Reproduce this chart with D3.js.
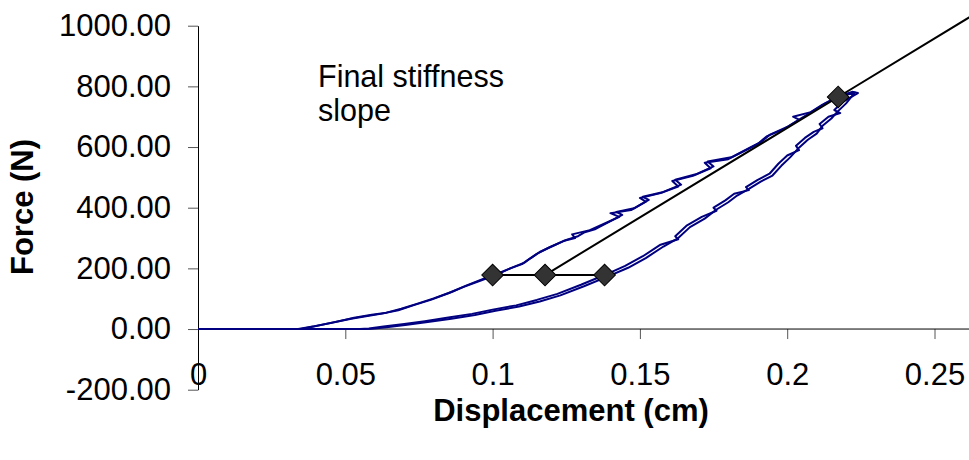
<!DOCTYPE html>
<html lang="en">
<head>
    <meta charset="UTF-8">
    <title>Force - displacement</title>
    <style>
        body { margin: 0; background: #fff; }
        svg text { font-family: "Liberation Sans", Arial, sans-serif; fill: #000; }
        .tick line { stroke: #555; }
    </style>
</head>
<body>
<svg id="chart"></svg>
<script src="https://d3js.org/d3.v7.min.js"></script>
<script>
    // hysteresis loops, [displacement cm, force N]
    var loadA = [[0, 0], [0.034, 0], [0.039, 8], [0.045, 20], [0.052, 34], [0.058, 44], [0.062, 50], [0.068, 62],
        [0.073, 78], [0.079, 96], [0.085, 118], [0.090, 138], [0.096, 160], [0.101, 178], [0.106, 200], [0.110, 214],
        [0.112, 228], [0.115, 248], [0.119, 268], [0.124, 290], [0.128, 300], [0.127, 312], [0.133, 326], [0.139, 352],
        [0.143, 370], [0.140, 382], [0.147, 392], [0.152, 420], [0.150, 432], [0.157, 448], [0.163, 470], [0.161, 488],
        [0.168, 505], [0.174, 530], [0.172, 548], [0.180, 560], [0.186, 590], [0.190, 610], [0.193, 635], [0.199, 660],
        [0.204, 690], [0.202, 700], [0.208, 715], [0.212, 740], [0.216, 760], [0.220, 775]]
    var unloadA = [[0.222, 782], [0.224, 778], [0.219, 750], [0.216, 722], [0.218, 712], [0.214, 700], [0.211, 676],
        [0.212, 662], [0.209, 650], [0.206, 630], [0.203, 604], [0.204, 590], [0.200, 572], [0.197, 545], [0.194, 512],
        [0.190, 492], [0.186, 468], [0.187, 458], [0.182, 446], [0.179, 424], [0.175, 400], [0.176, 390], [0.171, 370],
        [0.166, 342], [0.162, 306], [0.163, 296], [0.157, 278], [0.151, 240], [0.145, 208], [0.138, 178], [0.130, 146],
        [0.122, 116], [0.115, 96], [0.108, 78], [0.100, 64], [0.093, 50], [0.085, 38], [0.077, 26], [0.070, 17],
        [0.063, 8], [0.058, 2], [0.055, 0], [0.036, 0]]
    var loadB = [[0.035, 0], [0.040, 10], [0.046, 22], [0.053, 37], [0.059, 47], [0.064, 54], [0.069, 67], [0.074, 82],
        [0.080, 101], [0.086, 122], [0.091, 143], [0.097, 166], [0.102, 184], [0.107, 204], [0.111, 220], [0.113, 234],
        [0.116, 254], [0.120, 272], [0.125, 294], [0.129, 306], [0.131, 318], [0.135, 330], [0.140, 356], [0.144, 376],
        [0.142, 386], [0.148, 398], [0.153, 426], [0.151, 436], [0.158, 452], [0.164, 476], [0.162, 492], [0.169, 510],
        [0.175, 536], [0.173, 552], [0.181, 566], [0.187, 596], [0.191, 616], [0.194, 640], [0.200, 666], [0.205, 696],
        [0.209, 720], [0.213, 744], [0.217, 764], [0.223, 780]]
    var unloadB = [[0.223, 780], [0.220, 744], [0.217, 716], [0.215, 694], [0.212, 670], [0.210, 644], [0.207, 624],
        [0.204, 598], [0.201, 566], [0.198, 538], [0.195, 506], [0.191, 486], [0.187, 462], [0.183, 440], [0.180, 418],
        [0.176, 394], [0.172, 364], [0.167, 336], [0.163, 300], [0.158, 272], [0.152, 234], [0.146, 202], [0.139, 173],
        [0.131, 141], [0.123, 111], [0.116, 91], [0.109, 74], [0.101, 60], [0.094, 46], [0.086, 34], [0.078, 23],
        [0.071, 14], [0.064, 6], [0.059, 1], [0.056, 0], [0, 0]]

    // stiffness construction
    var markDisp = [0.1, 0.1178, 0.138, 0.2173]
    var markForce = [178, 178, 178, 765]
    var slopeDisp = [0.1178, 0.2173, 0.27]
    var slopeForce = [178, 765, 1076]

    var xTicks = [0, 0.05, 0.1, 0.15, 0.2, 0.25]
    var xTickLabels = ['0', '0.05', '0.1', '0.15', '0.2', '0.25']
    var yTicks = [-200, 0, 200, 400, 600, 800, 1000]

    var svgWidth = 969, svgHeight = 460
    var left = 198, right = 934.5

    var svg = d3.select('#chart')
        .attr('width', svgWidth)
        .attr('height', svgHeight)

    var x = d3.scaleLinear().domain([0, 0.25]).range([left, right])
    var y = d3.scaleLinear().domain([-200, 1000]).range([389.7, 25.7])

    svg.append('clipPath').attr('id', 'plot')
        .append('rect')
        .attr('x', left).attr('y', 0)
        .attr('width', svgWidth - left).attr('height', svgHeight)

    // y axis
    var yAxis = svg.append('g')
        .attr('transform', 'translate(' + left + ',0)')
        .call(d3.axisLeft(y).tickValues(yTicks)
            .tickFormat(function (d) { return d.toFixed(2) })
            .tickSize(10).tickSizeOuter(0).tickPadding(17))
    yAxis.select('.domain').attr('stroke', '#000')
    yAxis.selectAll('text').style('font-size', '31px')

    // x axis on the zero line
    var xAxis = svg.append('g')
        .attr('transform', 'translate(0,' + y(0) + ')')
        .call(d3.axisBottom(x).tickValues(xTicks).tickFormat(function (d, i) { return xTickLabels[i] })
            .tickSize(10).tickSizeOuter(0).tickPadding(24))
    xAxis.select('.domain').remove()
    xAxis.selectAll('.tick').filter(function (d) { return d === 0 }).select('line').remove()
    xAxis.selectAll('text').style('font-size', '31px')
    svg.append('line')
        .attr('x1', left).attr('x2', svgWidth)
        .attr('y1', y(0)).attr('y2', y(0))
        .attr('stroke', '#000')

    var line = d3.line()
        .x(function (d) { return x(d[0]) })
        .y(function (d) { return y(d[1]) })

    var g = svg.append('g').attr('clip-path', 'url(#plot)')

    g.selectAll('path.loop')
        .data([loadA.concat(unloadA), loadB.concat(unloadB)])
        .enter()
        .append('path')
        .attr('class', 'loop')
        .attr('d', line)
        .attr('fill', 'none')
        .attr('stroke', '#000080')
        .attr('stroke-width', 2)
        .attr('stroke-linejoin', 'round')

    var slope = slopeDisp.map(function (d, i) { return [d, slopeForce[i]] })
    var base = [[markDisp[0], markForce[0]], [markDisp[2], markForce[2]]]

    g.selectAll('path.fit')
        .data([base, slope])
        .enter()
        .append('path')
        .attr('class', 'fit')
        .attr('d', line)
        .attr('fill', 'none')
        .attr('stroke', '#000')
        .attr('stroke-width', 2)

    g.selectAll('path.mark')
        .data(markDisp)
        .enter()
        .append('path')
        .attr('class', 'mark')
        .attr('d', d3.symbol().type(d3.symbolSquare).size(235))
        .attr('transform', function (d, i) {
            return 'translate(' + x(d) + ',' + y(markForce[i]) + ') rotate(45)'
        })
        .attr('fill', '#333')
        .attr('stroke', '#000')
        .attr('stroke-width', 1)

    // titles
    svg.append('text')
        .attr('x', 571).attr('y', 421)
        .attr('text-anchor', 'middle')
        .style('font-size', '31px').style('font-weight', 'bold')
        .text('Displacement (cm)')

    svg.append('text')
        .attr('transform', 'translate(33,207) rotate(-90)')
        .attr('text-anchor', 'middle')
        .style('font-size', '31px').style('font-weight', 'bold')
        .text('Force (N)')

    var note = svg.append('text')
        .style('font-size', '30.5px')
    note.append('tspan').attr('x', 318).attr('y', 87).text('Final stiffness')
    note.append('tspan').attr('x', 318).attr('y', 121).text('slope')
</script>
</body>
</html>
